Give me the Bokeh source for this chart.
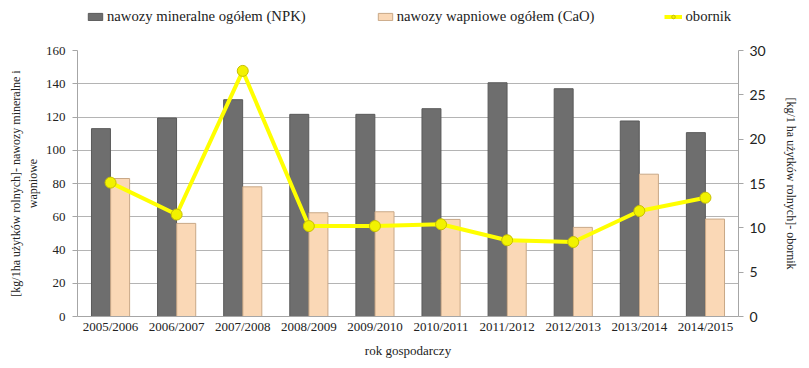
from bokeh.plotting import figure
from bokeh.layouts import column
from bokeh.models import (ColumnDataSource, Range1d, LinearAxis, FactorRange,
                          Legend, LegendItem, FixedTicker)
from bokeh.transform import dodge
from bokeh.embed import file_html
from bokeh.resources import INLINE

years = ["2005/2006", "2006/2007", "2007/2008", "2008/2009", "2009/2010",
         "2010/2011", "2011/2012", "2012/2013", "2013/2014", "2014/2015"]
npk = [113, 119.4, 130.4, 121.6, 121.6, 125, 140.6, 137, 117.6, 110.6]
cao = [83, 56, 78, 62.4, 63, 58.4, 46, 53.6, 85.6, 58.6]
obornik = [15.1, 11.5, 27.7, 10.2, 10.2, 10.4, 8.6, 8.4, 11.9, 13.4]

left_ticks = [0, 20, 40, 60, 80, 100, 120, 140, 160]
right_ticks = [0, 5, 10, 15, 20, 25, 30]

label_npk = "nawozy mineralne ogółem (NPK)"
label_cao = "nawozy wapniowe ogółem (CaO)"
label_obo = "obornik"

SERIF = "Liberation Serif"

NPK_STYLE = dict(fill_color="#6e6e6e", line_color="#5a5a5a", line_width=1)
CAO_STYLE = dict(fill_color="#fad8b6", line_color="#c9a887", line_width=1)
LINE_STYLE = dict(line_color="#ffff00", line_width=4)
MARK_STYLE = dict(size=11, fill_color="#f2f200", line_color="#c8c000", line_width=1)

src = ColumnDataSource(dict(year=years, npk=npk, cao=cao, obornik=obornik))

# ---------------- main chart ----------------
p = figure(x_range=FactorRange(factors=years), y_range=Range1d(0, 160),
           width=800, height=320, output_backend="svg", toolbar_location=None,
           min_border_left=77, min_border_right=62, min_border_top=10,
           min_border_bottom=43)
p.outline_line_color = None
p.background_fill_color = "white"
p.extra_y_ranges = {"right": Range1d(0, 30)}

b1 = p.vbar(x=dodge("year", -0.145, range=p.x_range), top="npk", width=0.287,
            source=src, **NPK_STYLE)
b2 = p.vbar(x=dodge("year", 0.145, range=p.x_range), top="cao", width=0.287,
            source=src, **CAO_STYLE)
l1 = p.line(x="year", y="obornik", source=src, y_range_name="right", **LINE_STYLE)
c1 = p.scatter(x="year", y="obornik", source=src, y_range_name="right", **MARK_STYLE)

p.xgrid.grid_line_color = None
p.ygrid.grid_line_color = "#b4b4b4"
p.ygrid.grid_line_width = 1

ya = p.yaxis[0]
ya.ticker = FixedTicker(ticks=left_ticks)
ya.axis_line_color = "#a6a6a6"
ya.major_tick_line_color = "#a6a6a6"
ya.major_tick_out = 5
ya.major_tick_in = 0
ya.minor_tick_line_color = None
ya.major_label_text_font = SERIF
ya.major_label_text_font_size = "13px"
ya.major_label_text_color = "#222222"
ya.major_label_standoff = 7
ya.axis_label = "[kg/1ha użytków rolnych]- nawozy mineralne i\nwapniowe"
ya.axis_label_text_font = SERIF
ya.axis_label_text_font_size = "12px"
ya.axis_label_text_font_style = "normal"
ya.axis_label_text_color = "#222222"
ya.axis_label_standoff = 3

ra = LinearAxis(y_range_name="right", ticker=FixedTicker(ticks=right_ticks))
ra.axis_line_color = "#a6a6a6"
ra.major_tick_line_color = "#a6a6a6"
ra.major_tick_out = 5
ra.major_tick_in = 0
ra.minor_tick_line_color = None
ra.major_label_text_font = "Lato"
ra.major_label_text_font_size = "14px"
ra.major_label_text_color = "#222222"
ra.major_label_standoff = 6
ra.axis_label = "[kg/1 ha użytków rolnych]- obornik"
ra.axis_label_text_font = SERIF
ra.axis_label_text_font_size = "12px"
ra.axis_label_text_font_style = "normal"
ra.axis_label_text_color = "#222222"
ra.axis_label_standoff = 15
p.add_layout(ra, "right")

xa = p.xaxis[0]
xa.axis_line_color = "#a6a6a6"
xa.major_tick_line_color = None
xa.major_tick_out = 0
xa.major_tick_in = 0
xa.minor_tick_line_color = None
xa.major_label_text_font = SERIF
xa.major_label_text_font_size = "13px"
xa.major_label_text_color = "#222222"
xa.major_label_standoff = 2
xa.axis_label = "rok gospodarczy"
xa.axis_label_text_font = SERIF
xa.axis_label_text_font_size = "13px"
xa.axis_label_text_font_style = "normal"
xa.axis_label_text_color = "#222222"
xa.axis_label_standoff = 6

# ---------------- legend strip above the chart ----------------
# (its frame is aligned with the chart frame by the column layout)
lg = figure(width=800, height=40, output_backend="svg", toolbar_location=None,
            x_range=Range1d(0, 1), y_range=Range1d(0, 1),
            min_border=0, min_border_left=0, min_border_right=0,
            min_border_top=0, min_border_bottom=0)
lg.axis.visible = False
lg.grid.visible = False
lg.outline_line_color = None
nan = float("nan")
swatch = ColumnDataSource(dict(x=[nan], y=[nan]))
d1 = lg.vbar(x="x", top="y", width=0.1, source=swatch, **NPK_STYLE)
d2 = lg.vbar(x="x", top="y", width=0.1, source=swatch, **CAO_STYLE)
d3 = lg.line(x="x", y="y", source=swatch, **LINE_STYLE)
d4 = lg.scatter(x="x", y="y", source=swatch, **MARK_STYLE)

legend = Legend(items=[
    LegendItem(label=label_npk, renderers=[d1]),
    LegendItem(label=label_cao, renderers=[d2]),
    LegendItem(label=label_obo, renderers=[d3, d4]),
], orientation="horizontal", location=(9, 15), spacing=70,
    glyph_width=18, glyph_height=9, label_standoff=3,
    label_text_font=SERIF, label_text_font_size="14.7px", label_text_color="#222222",
    border_line_color=None, background_fill_alpha=0, padding=0, margin=0)
lg.add_layout(legend, "center")

layout = column(lg, p, spacing=0)
open("out.html", "w").write(file_html(layout, INLINE))
